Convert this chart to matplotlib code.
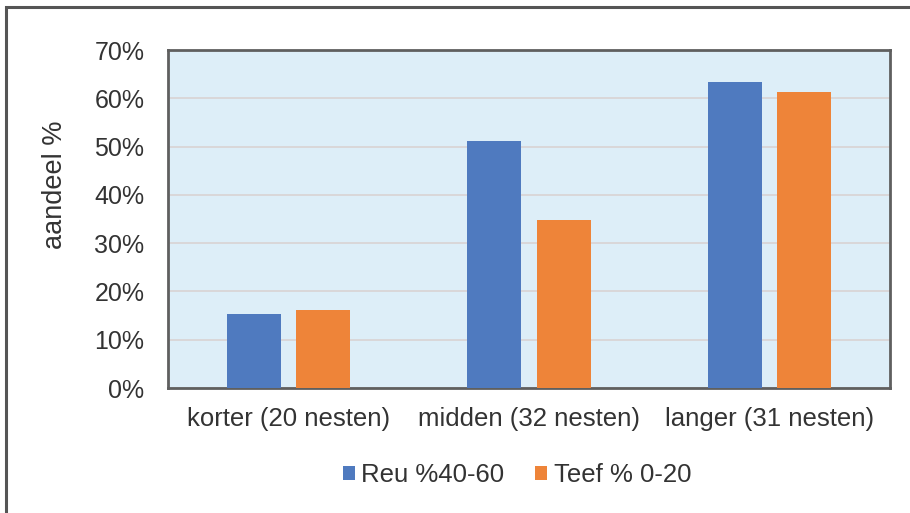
import numpy as np
import matplotlib
matplotlib.use("Agg")
import matplotlib.pyplot as plt
from matplotlib.ticker import PercentFormatter
from matplotlib.patches import Rectangle

plt.rcParams['font.family'] = ['Liberation Sans', 'DejaVu Sans']

# nest categories and the two series (fractions)
categories = ["korter (20 nesten)", "midden (32 nesten)", "langer (31 nesten)"]
reu = [0.153, 0.511, 0.633]
teef = [0.161, 0.347, 0.612]
series_names = ["Reu %40-60", "Teef % 0-20"]

W, H = 910, 513
fig = plt.figure(figsize=(W / 100, H / 100), dpi=100)

# outer frame of the figure (runs off the right and bottom edges)
fig.patches.append(Rectangle((6 / W, -0.1), 1.2, (H - 7) / H + 0.1,
                             transform=fig.transFigure, fill=False,
                             edgecolor="#555555", linewidth=2.2))

ax = fig.add_axes([168 / W, (H - 388) / H, (890 - 168) / W, (388 - 50) / H])
ax.set_facecolor("#DDEEF8")

x = np.arange(len(categories))
w = 0.224
off = w / 2 + 0.032
ax.bar(x - off, reu, w, color="#4F7ABF", label=series_names[0], zorder=3)
ax.bar(x + off, teef, w, color="#EE8439", label=series_names[1], zorder=3)

ax.set_xlim(-0.5, 2.5)
ax.set_ylim(0, 0.7)
ax.set_yticks(np.arange(0, 0.71, 0.1))
ax.yaxis.set_major_formatter(PercentFormatter(1.0, decimals=0))
ax.set_xticks(x)
ax.set_xticklabels(categories)
ax.tick_params(axis="both", length=0, colors="#333333")
ax.tick_params(axis="y", labelsize=18, pad=17)
ax.tick_params(axis="x", labelsize=18.5, pad=14)
ax.grid(axis="y", color="#D9D3D3", linewidth=1.2, zorder=1)
for s in ax.spines.values():
    s.set_color("#5f5f5f")
    s.set_linewidth(2)

ax.set_ylabel("aandeel %", fontsize=19.5, color="#333333")
ax.yaxis.set_label_coords(-0.138, 0.6)

fig.legend(loc="center", bbox_to_anchor=(517 / W, 1 - 475 / H), ncol=2,
           frameon=False, fontsize=18.5, handlelength=0.47, handleheight=0.47,
           handletextpad=0.25, columnspacing=1.2, labelcolor="#333333")

fig.savefig("out.png", dpi=100)
